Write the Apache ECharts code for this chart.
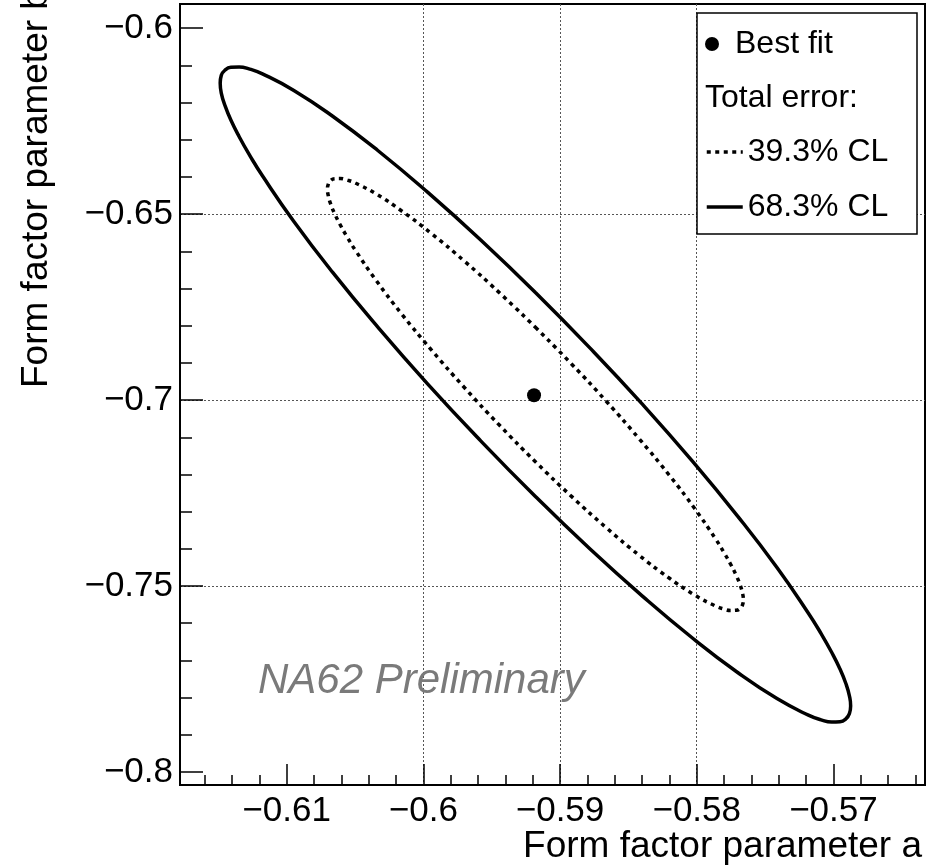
<!DOCTYPE html>
<html>
<head>
<meta charset="utf-8">
<script src="https://cdn.jsdelivr.net/npm/echarts@6/dist/echarts.min.js"></script>
<style>
html,body{margin:0;padding:0;background:#fff;}
#chart{width:942px;height:867px;}
</style>
</head>
<body>
<div id="chart"></div>
<script>
// ---- data ----
var xRange = [-0.6178, -0.5633];
var yRange = [-0.8035, -0.5935];
var xMajorTicks = [-0.61, -0.60, -0.59, -0.58, -0.57];
var xTickLabels = ['\u22120.61', '\u22120.6', '\u22120.59', '\u22120.58', '\u22120.57'];
var xMinorTicks = [-0.616, -0.614, -0.612, -0.608, -0.606, -0.604, -0.602, -0.598, -0.596, -0.594, -0.592,
                   -0.588, -0.586, -0.584, -0.582, -0.578, -0.576, -0.574, -0.572, -0.568, -0.566, -0.564];
var yMajorTicks = [-0.80, -0.75, -0.70, -0.65, -0.60];
var yTickLabels = ['\u22120.8', '\u22120.75', '\u22120.7', '\u22120.65', '\u22120.6'];
var yMinorTicks = [-0.79, -0.78, -0.77, -0.76, -0.74, -0.73, -0.72, -0.71, -0.69, -0.68, -0.67, -0.66,
                   -0.64, -0.63, -0.62, -0.61];

var bestFit = [[-0.5919, -0.6987]];

// 68.3% CL contour (outer, solid)
var contour68 = [
  [-0.59180, -0.67108], [-0.58780, -0.68603], [-0.58391, -0.70137], [-0.58027, -0.71662],
  [-0.57698, -0.73132], [-0.57413, -0.74502], [-0.57183, -0.75731], [-0.57090, -0.76280],
  [-0.57013, -0.76781], [-0.56952, -0.77229], [-0.56909, -0.77620], [-0.56883, -0.77953],
  [-0.56874, -0.78224], [-0.56883, -0.78431], [-0.56909, -0.78572], [-0.56952, -0.78648],
  [-0.57013, -0.78657], [-0.57090, -0.78598], [-0.57183, -0.78473], [-0.57413, -0.78027],
  [-0.57698, -0.77333], [-0.58027, -0.76411], [-0.58391, -0.75290], [-0.58780, -0.74004],
  [-0.59180, -0.72592], [-0.59580, -0.71097], [-0.59969, -0.69563], [-0.60333, -0.68038],
  [-0.60663, -0.66568], [-0.60947, -0.65198], [-0.61177, -0.63969], [-0.61270, -0.63420],
  [-0.61347, -0.62919], [-0.61408, -0.62471], [-0.61451, -0.62080], [-0.61478, -0.61747],
  [-0.61486, -0.61476], [-0.61478, -0.61269], [-0.61451, -0.61128], [-0.61408, -0.61052],
  [-0.61347, -0.61044], [-0.61270, -0.61102], [-0.61177, -0.61227], [-0.60947, -0.61673],
  [-0.60663, -0.62367], [-0.60333, -0.63289], [-0.59969, -0.64410], [-0.59580, -0.65696],
  [-0.59180, -0.67108]
];

// 39.3% CL contour (inner, dotted)
var contour39 = [
  [-0.59180, -0.68042], [-0.58916, -0.69028], [-0.58660, -0.70039], [-0.58420, -0.71045],
  [-0.58202, -0.72014], [-0.58015, -0.72917], [-0.57863, -0.73728], [-0.57802, -0.74090],
  [-0.57751, -0.74420], [-0.57711, -0.74715], [-0.57682, -0.74974], [-0.57665, -0.75193],
  [-0.57659, -0.75372], [-0.57665, -0.75508], [-0.57682, -0.75602], [-0.57711, -0.75651],
  [-0.57751, -0.75657], [-0.57802, -0.75618], [-0.57863, -0.75536], [-0.58015, -0.75242],
  [-0.58202, -0.74784], [-0.58420, -0.74177], [-0.58660, -0.73437], [-0.58916, -0.72589],
  [-0.59180, -0.71658], [-0.59444, -0.70672], [-0.59700, -0.69661], [-0.59940, -0.68655],
  [-0.60158, -0.67686], [-0.60345, -0.66783], [-0.60497, -0.65972], [-0.60558, -0.65610],
  [-0.60609, -0.65280], [-0.60649, -0.64985], [-0.60678, -0.64726], [-0.60695, -0.64507],
  [-0.60701, -0.64328], [-0.60695, -0.64192], [-0.60678, -0.64098], [-0.60649, -0.64049],
  [-0.60609, -0.64043], [-0.60558, -0.64082], [-0.60497, -0.64164], [-0.60345, -0.64458],
  [-0.60158, -0.64916], [-0.59940, -0.65524], [-0.59700, -0.66263], [-0.59444, -0.67111],
  [-0.59180, -0.68042]
];

var seriesNames = ['Best fit', '39.3% CL', '68.3% CL'];
var legendHeader = 'Total error:';
var xTitle = 'Form factor parameter a';
var yTitle = 'Form factor parameter b';
var watermark = 'NA62 Preliminary';

// ---- chart ----
var FONT = '"Liberation Sans", Arial, Helvetica, sans-serif';
function labelFor(ticks, labels) {
  return function (v) {
    for (var i = 0; i < ticks.length; i++) {
      if (Math.abs(ticks[i] - v) < 1e-7) return labels[i];
    }
    return '';
  };
}
var gridLine = { show: true, showMinLine: false, showMaxLine: false,
  lineStyle: { color: '#555', width: 1, type: [2, 2] } };
var dotted = [4, 4.5];

var chart = echarts.init(document.getElementById('chart'), null, { renderer: 'canvas' });
chart.setOption({
  animation: false,
  backgroundColor: '#fff',
  grid: { left: 180, top: 4, width: 745, height: 781, show: true,
          borderColor: '#000', borderWidth: 2, backgroundColor: 'transparent' },
  xAxis: [
    { type: 'value', min: xRange[0], max: xRange[1], position: 'bottom',
      axisLine: { show: true, onZero: false, lineStyle: { color: '#000', width: 2 } },
      axisTick: { show: true, inside: true, length: 21, customValues: xMajorTicks,
                  lineStyle: { color: '#000', width: 1.5 } },
      axisLabel: { show: true, customValues: xMajorTicks, formatter: labelFor(xMajorTicks, xTickLabels),
                   margin: 9, color: '#000', fontSize: 35, fontFamily: FONT },
      splitLine: gridLine },
    { type: 'value', min: xRange[0], max: xRange[1], position: 'bottom', offset: 0,
      axisLine: { show: false, onZero: false },
      axisTick: { show: true, inside: true, length: 10, customValues: xMinorTicks,
                  lineStyle: { color: '#000', width: 1.5 } },
      axisLabel: { show: false }, splitLine: { show: false } }
  ],
  yAxis: [
    { type: 'value', min: yRange[0], max: yRange[1], position: 'left',
      axisLine: { show: true, onZero: false, lineStyle: { color: '#000', width: 2 } },
      axisTick: { show: true, inside: true, length: 23, customValues: yMajorTicks,
                  lineStyle: { color: '#000', width: 1.5 } },
      axisLabel: { show: true, customValues: yMajorTicks, formatter: labelFor(yMajorTicks, yTickLabels),
                   margin: 7, color: '#000', fontSize: 35, fontFamily: FONT },
      splitLine: gridLine },
    { type: 'value', min: yRange[0], max: yRange[1], position: 'left', offset: 0,
      axisLine: { show: false, onZero: false },
      axisTick: { show: true, inside: true, length: 12, customValues: yMinorTicks,
                  lineStyle: { color: '#000', width: 1.5 } },
      axisLabel: { show: false }, splitLine: { show: false } }
  ],
  legend: [
    { data: [{ name: seriesNames[0], icon: 'circle' }], orient: 'vertical', left: 705, top: 28,
      padding: 0, itemWidth: 36, itemHeight: 14, selectedMode: false, z: 20,
      itemStyle: { color: '#000', opacity: 1 },
      textStyle: { color: '#000', fontSize: 32, lineHeight: 32, fontFamily: FONT } },
    { data: [
        { name: seriesNames[1], lineStyle: { color: '#000', width: 3.5, type: dotted } },
        { name: seriesNames[2], lineStyle: { color: '#000', width: 3.5, type: 'solid' } }
      ],
      orient: 'vertical', left: 705, top: 136,
      padding: 0, itemWidth: 36, itemHeight: 14, itemGap: 23, selectedMode: false, z: 20,
      itemStyle: { opacity: 0 },
      textStyle: { color: '#000', fontSize: 32, lineHeight: 32, fontFamily: FONT } }
  ],
  graphic: [
    { type: 'rect', z: 15, shape: { x: 697, y: 13, width: 220, height: 221 },
      style: { fill: '#fff', stroke: '#000', lineWidth: 1.5 } },
    { type: 'text', z: 21, x: 705, y: 98,
      style: { text: legendHeader, fill: '#000', font: '32px ' + FONT, textAlign: 'left', textVerticalAlign: 'middle' } },
    { type: 'text', z: 10, x: 258, y: 681,
      style: { text: watermark, fill: '#7a7a7a', font: 'italic 42px ' + FONT, textAlign: 'left', textVerticalAlign: 'middle' } },
    { type: 'text', z: 10, x: 922, y: 847,
      style: { text: xTitle, fill: '#000', font: '37px ' + FONT, textAlign: 'right', textVerticalAlign: 'middle' } },
    { type: 'text', z: 10, x: 37, y: 388, rotation: Math.PI / 2,
      style: { text: yTitle, fill: '#000', font: '37px ' + FONT, textAlign: 'left', textVerticalAlign: 'middle' } }
  ],
  series: [
    { name: seriesNames[2], type: 'line', data: contour68, smooth: true, symbol: 'none', z: 5,
      lineStyle: { color: '#000', width: 3.5, type: 'solid' }, itemStyle: { color: '#000' } },
    { name: seriesNames[1], type: 'line', data: contour39, smooth: true, symbol: 'none', z: 5,
      lineStyle: { color: '#000', width: 3.5, type: dotted }, itemStyle: { color: '#000' } },
    { name: seriesNames[0], type: 'scatter', data: bestFit, symbol: 'circle', symbolSize: 14, z: 6,
      itemStyle: { color: '#000', opacity: 1 } }
  ]
});
</script>
</body>
</html>
